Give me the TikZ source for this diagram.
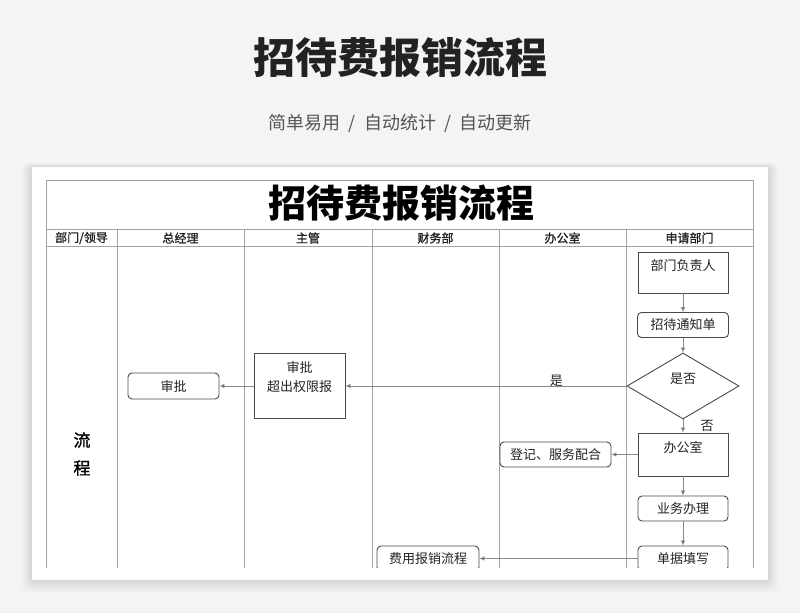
\documentclass[tikz,border=0pt]{standalone}
\usepackage{fontspec}
\setmainfont{Noto Sans CJK SC}
\newfontfamily\medfont[FakeBold=1.2]{Noto Sans CJK SC}
\usetikzlibrary{shapes.geometric,arrows.meta}

\definecolor{pagebg}{HTML}{F3F4F6}
\definecolor{gridgray}{HTML}{A3A3A3}
\definecolor{boxgray}{HTML}{4A4A4A}
\definecolor{arrowgray}{HTML}{8A8A8A}
\definecolor{inkdark}{HTML}{222222}
\definecolor{subgray}{HTML}{555555}

\newcommand{\fs}[1]{\fontsize{#1}{#1}\selectfont}

\begin{document}
\begin{tikzpicture}[x=1pt,y=-1pt,
  grid/.style={draw=gridgray,line width=0.8pt},
  head/.style={font=\fs{12}\medfont,text=inkdark},
  box/.style={draw=boxgray,line width=0.9pt,inner sep=0pt,font=\fs{13},text=inkdark},
  rbox/.style={box,rounded corners=4pt,minimum height=25pt},
  arr/.style={draw=arrowgray,line width=0.8pt,-{Latex[length=5pt,width=4.5pt,fill=boxgray]}}]
  \useasboundingbox (0,0) rectangle (800,613);
  \fill[pagebg] (0,0) rectangle (800,613);

  % page heading
  \node[font=\fs{42}\bfseries,text=inkdark] (maintitle) at (400,58) {招待费报销流程};
  \node[font=\fs{18},text=subgray] (subtitle) at (400,124) {简单易用\ \ /\ \ 自动统计\ \ /\ \ 自动更新};

  % card with soft shadow
  \foreach \s in {1,...,10}
    \fill[black,opacity=0.012,rounded corners=6pt] (32-\s,167-0.4*\s) rectangle (768+\s,580+1.2*\s);
  \fill[white] (32,167) rectangle (768,580);

  \begin{scope}
    \clip (40,170) rectangle (760,567.5);
    % table grid
    \draw[grid] (46,600) -- (46,180) -- (753,180) -- (753,600);
    \draw[grid] (46,229) -- (753,229);
    \draw[grid] (46,246) -- (753,246);
    \foreach \x in {117,244,372,499,626}
      \draw[grid] (\x,229) -- (\x,600);

    \node[font=\fs{38}\bfseries,text=black] (tabtitle) at (401,203) {招待费报销流程};
    \node[head] (h1) at (81.5,238) {部门/领导};
    \node[head] (h2) at (180.5,238) {总经理};
    \node[head] (h3) at (308,238) {主管};
    \node[head] (h4) at (435.5,238) {财务部};
    \node[head] (h5) at (562.5,238) {办公室};
    \node[head] (h6) at (689.5,238) {申请部门};
    \node[font=\fs{17}\medfont,text=black,align=center] (flow) at (82,454) {流\\[11pt]程};

    % flow nodes
    \node[box,minimum width=90pt,minimum height=41pt,text height=18.9pt,text depth=22.1pt] (leader) at (683,272.5) {部门负责人};
    \node[rbox,minimum width=91pt] (notice) at (683,325) {招待通知单};
    \node[box,diamond,minimum width=112pt,minimum height=66pt,text height=11.4pt,text depth=15.6pt] (decide) at (683,386) {是否};
    \node[box,minimum width=90pt,minimum height=43pt,text height=19.9pt,text depth=23.1pt] (office) at (683,454.5) {办公室};
    \node[rbox,minimum width=111pt] (register) at (555.5,454.5) {登记、服务配合};
    \node[rbox,minimum width=90pt] (handle) at (683,508.5) {业务办理};
    \node[rbox,minimum width=90pt] (filling) at (683,558.5) {单据填写};
    \node[rbox,minimum width=102pt] (expense) at (428,558.5) {费用报销流程};
    \node[box,minimum width=91pt,minimum height=65pt,text height=37.9pt,text depth=27.1pt] (super) at (299.5,386) {\shortstack{审批\\[4pt]超出权限报}};
    \node[rbox,minimum width=91pt,minimum height=26pt] (gm) at (173.5,386) {审批};

    % connectors
    \draw[arr] (leader) -- (notice);
    \draw[arr] (notice) -- (decide);
    \draw[arr] (decide) -- node[pos=0.25,yshift=5pt,font=\fs{13},text=inkdark] {是} (super);
    \draw[arr] (super) -- (gm);
    \draw[arr] (decide) -- node[pos=0.5,xshift=24pt,font=\fs{13},text=inkdark] {否} (office);
    \draw[arr] (office) -- (register);
    \draw[arr] (office) -- (handle);
    \draw[arr] (handle) -- (filling);
    \draw[arr] (filling) -- (expense);
  \end{scope}
\end{tikzpicture}
\end{document}
